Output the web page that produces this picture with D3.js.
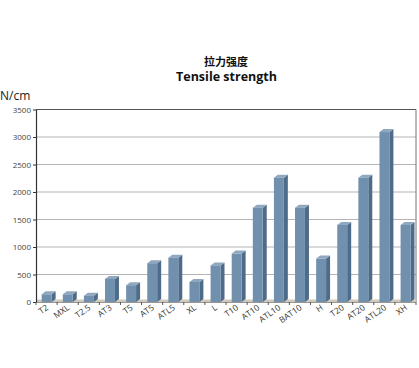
<!DOCTYPE html>
<html>
<head>
<meta charset="utf-8">
<script src="https://cdn.jsdelivr.net/npm/d3@7"></script>
<style>
  body { margin: 0; background: #fff; }
  text { font-family: "Open Sans", "Noto Sans CJK SC", sans-serif; }
</style>
</head>
<body>
<svg id="chart"></svg>
<script>
// 拉力强度 / Tensile strength
const categories = ["T2", "MXL", "T2.5", "AT3", "T5", "AT5", "ATL5", "XL", "L", "T10",
  "AT10", "ATL10", "BAT10", "H", "T20", "AT20", "ATL20", "XH"];
const strength = [140, 140, 115, 420, 305, 705, 805, 365, 665, 880,
  1715, 2260, 1715, 790, 1400, 2260, 3090, 1400];
const yTicks = [0, 500, 1000, 1500, 2000, 2500, 3000, 3500];

const width = 419, height = 368;
const margin = { top: 109.5, right: 3, bottom: 66, left: 36 };
const dx = 4, dy = 3; // 立体の奥行き

const svg = d3.select("#chart").attr("width", width).attr("height", height);

const x = d3.scaleBand()
    .domain(categories)
    .range([margin.left, width - margin.right]);

const y = d3.scaleLinear()
    .domain([0, 3500])
    .range([height - margin.bottom, margin.top]);

// グリッド
svg.append("g")
    .selectAll("line")
    .data(yTicks.slice(1, -1))
    .enter().append("line")
    .attr("x1", margin.left).attr("x2", width - margin.right)
    .attr("y1", d => y(d)).attr("y2", d => y(d))
    .attr("stroke", "#b4b4b4").attr("stroke-width", 1.2);

// 外枠
svg.append("line")
    .attr("x1", margin.left).attr("x2", width - margin.right)
    .attr("y1", y(3500)).attr("y2", y(3500))
    .attr("stroke", "#555").attr("stroke-width", 1.2);
svg.append("line")
    .attr("x1", width - margin.right).attr("x2", width - margin.right)
    .attr("y1", y(3500)).attr("y2", y(0))
    .attr("stroke", "#777").attr("stroke-width", 1);

// 床
svg.append("rect")
    .attr("x", margin.left).attr("y", y(0) - 2.5)
    .attr("width", width - margin.right - margin.left).attr("height", 3)
    .attr("fill", "#cfc8bc");
svg.append("line")
    .attr("x1", margin.left).attr("x2", width - margin.right)
    .attr("y1", y(0) + 0.5).attr("y2", y(0) + 0.5)
    .attr("stroke", "#9a958e").attr("stroke-width", 1);

// Y軸
const yAxis = svg.append("g")
    .attr("transform", `translate(${margin.left},0)`)
    .call(d3.axisLeft(y).tickValues(yTicks).tickFormat(d3.format("d")).tickSize(3).tickSizeOuter(0));
yAxis.select(".domain").attr("stroke", "#333").attr("stroke-width", 1.2);
yAxis.selectAll(".tick line").attr("stroke", "#333");
yAxis.selectAll("text").attr("font-size", 8).attr("fill", "#444").attr("x", -5);

// 下部の目盛り
svg.append("g")
    .selectAll("line")
    .data(categories.concat([null]))
    .enter().append("line")
    .attr("x1", (d, i) => margin.left + i * x.bandwidth())
    .attr("x2", (d, i) => margin.left + i * x.bandwidth())
    .attr("y1", y(0)).attr("y2", y(0) + 3)
    .attr("stroke", "#555");

// 棒
const bw = x.bandwidth() * 0.47;
const off = x.bandwidth() * 0.27;
const bars = svg.append("g")
    .selectAll("g")
    .data(categories.map((c, i) => ({ c, v: strength[i] })))
    .enter().append("g");

bars.append("path")   // 側面
    .attr("d", d => {
        const x0 = x(d.c) + off + bw, y0 = y(d.v), yb = y(0);
        return `M${x0},${y0}L${x0 + dx},${y0 - dy}L${x0 + dx},${yb - dy}L${x0},${yb}Z`;
    })
    .attr("fill", "#4e6c8a");

bars.append("path")   // 上面
    .attr("d", d => {
        const x0 = x(d.c) + off, y0 = y(d.v);
        return `M${x0},${y0}L${x0 + dx},${y0 - dy}L${x0 + bw + dx},${y0 - dy}L${x0 + bw},${y0}Z`;
    })
    .attr("fill", "#8fa7bf");

bars.append("rect")   // 前面
    .attr("x", d => x(d.c) + off)
    .attr("y", d => y(d.v))
    .attr("width", bw)
    .attr("height", d => y(0) - y(d.v))
    .attr("fill", "#7090ad");

// X軸ラベル
svg.append("g")
    .selectAll("text")
    .data(categories)
    .enter().append("text")
    .attr("transform", d => `translate(${x(d) + x.bandwidth() * 0.62},${y(0) + 7}) rotate(-35)`)
    .attr("text-anchor", "end")
    .attr("font-size", 8.5)
    .attr("fill", "#333")
    .text(d => d);

// タイトル
svg.append("text")
    .attr("x", 226).attr("y", 66)
    .attr("text-anchor", "middle")
    .attr("font-size", 11).attr("font-weight", "bold")
    .attr("fill", "#111")
    .text("拉力强度");
svg.append("text")
    .attr("x", 226.5).attr("y", 81)
    .attr("text-anchor", "middle")
    .attr("font-size", 12.5).attr("font-weight", "bold")
    .attr("fill", "#111")
    .text("Tensile strength");

svg.append("text")
    .attr("x", 0).attr("y", 100)
    .attr("font-size", 12)
    .attr("fill", "#222")
    .text("N/cm");
</script>
</body>
</html>
